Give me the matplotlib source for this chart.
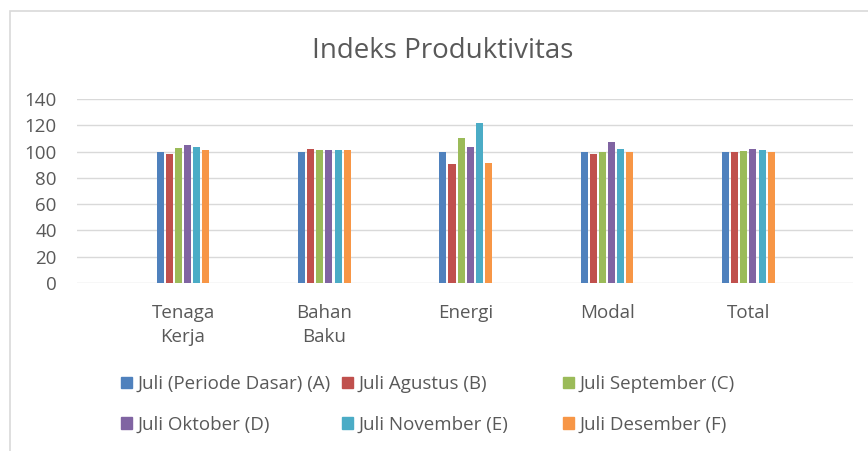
import numpy as np
import matplotlib
matplotlib.use("Agg")
import matplotlib.pyplot as plt
from matplotlib.patches import Rectangle

plt.rcParams['font.family'] = ['Open Sans', 'DejaVu Sans']

categories = ['Tenaga\nKerja', 'Bahan\nBaku', 'Energi', 'Modal', 'Total']
series_names = ['Juli (Periode Dasar) (A)', 'Juli Agustus (B)', 'Juli September (C)',
                'Juli Oktober (D)', 'Juli November (E)', 'Juli Desember (F)']
val_a = [100, 100, 100, 100, 100]
val_b = [98.2, 102.3, 90.4, 97.8, 100]
val_c = [103, 101, 110, 100, 100.8]
val_d = [104.8, 101, 103.8, 107, 102]
val_e = [103.8, 101.3, 121.6, 102, 101]
val_f = [101.5, 101.3, 91, 99.5, 100]
colors = ['#4F81BD', '#C0504D', '#9BBB59', '#8064A2', '#4BACC6', '#F79646']

all_vals = [val_a, val_b, val_c, val_d, val_e, val_f]
text_col = '#595959'

W, H = 868, 451
fig = plt.figure(figsize=(W / 100, H / 100), dpi=100)
ax = fig.add_axes([77 / W, (H - 283) / H, (853 - 77) / W, (283 - 99) / H])

x = np.arange(len(categories))
pitch = 0.0645
width = 0.05
for i, (vals, c) in enumerate(zip(all_vals, colors)):
    ax.bar(x + (i - 2.5) * pitch, vals, width, color=c, zorder=3)

ax.set_ylim(0, 140)
ax.set_yticks(range(0, 141, 20))
ax.set_xlim(-0.75, 4.74)
ax.set_xticks(x)
ax.set_xticklabels(categories, linespacing=1.45)
ax.yaxis.grid(True, color='#d9d9d9', lw=1, zorder=0)
for s in ax.spines.values():
    s.set_visible(False)
ax.tick_params(length=0, labelsize=13.5, colors=text_col)
ax.tick_params(axis='y', pad=14.5)
ax.tick_params(axis='x', pad=15)

fig.text(443 / W, 1 - 51 / H, 'Indeks Produktivitas', ha='center', va='center',
         fontsize=20, color=text_col)

# legend in three columns, each its own legend
col_x = [121, 342, 563]
for k in range(3):
    hs = [Rectangle((0, 0), 1, 1, color=colors[k]), Rectangle((0, 0), 1, 1, color=colors[k + 3])]
    labs = [series_names[k], series_names[k + 3]]
    fig.legend(hs, labs, loc='upper left', bbox_to_anchor=(col_x[k] / W, 1 - 375 / H),
               frameon=False, fontsize=13.5, labelcolor=text_col, handlelength=0.57,
               handleheight=0.57, handletextpad=0.3, labelspacing=1.2, borderpad=0,
               borderaxespad=0)

fig.add_artist(Rectangle((10 / W, -0.1), 1.1, 1 - 11 / H + 0.1, transform=fig.transFigure,
                         fill=False, edgecolor='#d9d9d9', lw=1.2))

fig.savefig('out.png', dpi=100)
